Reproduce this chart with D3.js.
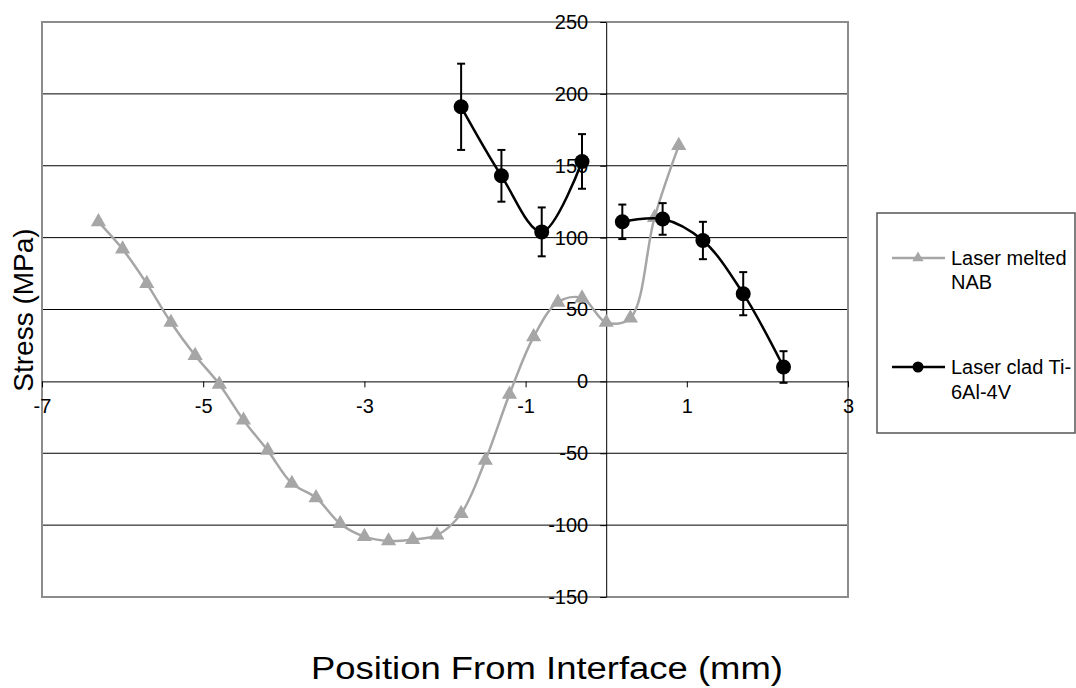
<!DOCTYPE html>
<html lang="en">
<head>
    <meta charset="UTF-8">
    <title>Stress vs Position From Interface</title>
    <script src="https://d3js.org/d3.v7.min.js"></script>
    <style>
        body { margin: 0; background: #fff; }
        text { font-family: "Liberation Sans", Arial, sans-serif; fill: #000; }
    </style>
</head>
<body>
    <svg id="chart" width="1076" height="688"></svg>

    <script>
        // Laser melted NAB (grey triangles)
        const nabX = [-6.3, -6.0, -5.7, -5.4, -5.1, -4.8, -4.5, -4.2, -3.9, -3.6, -3.3, -3.0, -2.7,
                      -2.4, -2.1, -1.8, -1.5, -1.2, -0.9, -0.6, -0.3, 0.0, 0.3, 0.6, 0.9];
        const nabY = [111, 92, 68, 41, 18, -2, -27, -48, -71, -81, -99, -108, -111,
                      -110, -107, -92, -55, -9, 31, 55, 58, 41, 44, 114, 164];

        // Laser clad Ti-6Al-4V (black circles with error bars), two measured runs
        const tiX = [-1.8, -1.3, -0.8, -0.3, 0.2, 0.7, 1.2, 1.7, 2.2];
        const tiY = [191, 143, 104, 153, 111, 113, 98, 61, 10];
        const tiErr = [30, 18, 17, 19, 12, 11, 13, 15, 11];
        const tiRun = [0, 0, 0, 0, 1, 1, 1, 1, 1];

        const xTicks = [-7, -5, -3, -1, 1, 3];
        const yTicks = [-150, -100, -50, 0, 50, 100, 150, 200, 250];

        const svg = d3.select("#chart");
        const grey = "#a6a6a6";
        const font = "Liberation Sans, Arial, sans-serif";

        const x = d3.scaleLinear().domain([-7, 3]).range([42, 848]);
        const y = d3.scaleLinear().domain([-150, 250]).range([597, 22]);

        // gridlines
        svg.append("g")
            .selectAll("line")
            .data(yTicks.filter(v => v !== 0 && v !== 250 && v !== -150))
            .enter().append("line")
            .attr("x1", x(-7)).attr("x2", x(3))
            .attr("y1", d => y(d)).attr("y2", d => y(d))
            .attr("stroke", "#000").attr("stroke-width", 1);

        // plot border
        svg.append("rect")
            .attr("x", x(-7)).attr("y", y(250))
            .attr("width", x(3) - x(-7)).attr("height", y(-150) - y(250))
            .attr("fill", "none").attr("stroke", "#8c8c8c").attr("stroke-width", 2);

        // axes crossing at 0
        const yAxis = svg.append("g")
            .attr("transform", `translate(${x(0)},0)`)
            .call(d3.axisLeft(y).tickValues(yTicks).tickFormat(d => String(d))
                .tickSize(6).tickSizeOuter(0).tickPadding(12));
        const xAxis = svg.append("g")
            .attr("transform", `translate(0,${y(0)})`)
            .call(d3.axisBottom(x).tickValues(xTicks).tickFormat(d => String(d))
                .tickSize(6).tickSizeOuter(0).tickPadding(11));

        [yAxis, xAxis].forEach(a => {
            a.attr("font-size", 20).attr("font-family", font);
            a.selectAll("text").attr("font-size", 20).attr("font-family", font);
            a.select(".domain").attr("stroke", "#000");
            a.selectAll(".tick line").attr("stroke", "#000");
        });

        const line = d3.line()
            .x(d => x(d.x))
            .y(d => y(d.y))
            .curve(d3.curveCatmullRom.alpha(0.5));

        // NAB series
        const nabData = nabX.map((v, i) => ({ x: v, y: nabY[i] }));

        svg.append("path")
            .datum(nabData)
            .attr("fill", "none")
            .attr("stroke", grey)
            .attr("stroke-width", 2.5)
            .attr("d", line);

        const tri = d3.symbol().type(d3.symbolTriangle).size(100);
        svg.append("g")
            .selectAll("path")
            .data(nabData)
            .enter().append("path")
            .attr("d", tri)
            .attr("transform", d => `translate(${x(d.x)},${y(d.y)})`)
            .attr("fill", grey);

        // Ti-6Al-4V series
        const tiData = tiX.map((v, i) => ({ x: v, y: tiY[i], e: tiErr[i], run: tiRun[i] }));
        const runs = d3.groups(tiData, d => d.run).map(g => g[1]);

        svg.append("g")
            .selectAll("path")
            .data(runs)
            .enter().append("path")
            .attr("fill", "none")
            .attr("stroke", "#000")
            .attr("stroke-width", 2.5)
            .attr("d", line);

        const bars = svg.append("g")
            .selectAll("g")
            .data(tiData)
            .enter().append("g")
            .attr("stroke", "#000")
            .attr("stroke-width", 2);
        bars.append("line")
            .attr("x1", d => x(d.x)).attr("x2", d => x(d.x))
            .attr("y1", d => y(d.y + d.e)).attr("y2", d => y(d.y - d.e));
        bars.append("line")
            .attr("x1", d => x(d.x) - 4).attr("x2", d => x(d.x) + 4)
            .attr("y1", d => y(d.y + d.e)).attr("y2", d => y(d.y + d.e));
        bars.append("line")
            .attr("x1", d => x(d.x) - 4).attr("x2", d => x(d.x) + 4)
            .attr("y1", d => y(d.y - d.e)).attr("y2", d => y(d.y - d.e));

        svg.append("g")
            .selectAll("circle")
            .data(tiData)
            .enter().append("circle")
            .attr("cx", d => x(d.x))
            .attr("cy", d => y(d.y))
            .attr("r", 7.5)
            .attr("fill", "#000");

        // axis titles
        svg.append("text")
            .attr("x", 547).attr("y", 679)
            .attr("text-anchor", "middle")
            .attr("font-size", 31)
            .attr("textLength", 472)
            .attr("lengthAdjust", "spacingAndGlyphs")
            .text("Position From Interface (mm)");

        svg.append("text")
            .attr("transform", "translate(33,310) rotate(-90)")
            .attr("text-anchor", "middle")
            .attr("font-size", 28)
            .text("Stress (MPa)");

        // legend
        const legend = svg.append("g");
        legend.append("rect")
            .attr("x", 877).attr("y", 213)
            .attr("width", 198).attr("height", 220)
            .attr("fill", "#fff").attr("stroke", "#555").attr("stroke-width", 1.5);

        const lg1 = legend.append("g").attr("transform", "translate(0,258)");
        lg1.append("line").attr("x1", 892).attr("x2", 945).attr("stroke", grey).attr("stroke-width", 2.5);
        lg1.append("path").attr("d", d3.symbol().type(d3.symbolTriangle).size(55))
            .attr("transform", "translate(918,0)").attr("fill", grey);
        lg1.append("text").attr("x", 951).attr("dy", "0.35em").attr("font-size", 20).text("Laser melted");
        lg1.append("text").attr("x", 951).attr("y", 24).attr("dy", "0.35em").attr("font-size", 20).text("NAB");

        const lg2 = legend.append("g").attr("transform", "translate(0,367)");
        lg2.append("line").attr("x1", 892).attr("x2", 945).attr("stroke", "#000").attr("stroke-width", 2.5);
        lg2.append("circle").attr("cx", 918).attr("r", 5.5).attr("fill", "#000");
        lg2.append("text").attr("x", 951).attr("dy", "0.35em").attr("font-size", 20).text("Laser clad Ti-");
        lg2.append("text").attr("x", 951).attr("y", 25).attr("dy", "0.35em").attr("font-size", 20).text("6Al-4V");
    </script>
</body>
</html>
